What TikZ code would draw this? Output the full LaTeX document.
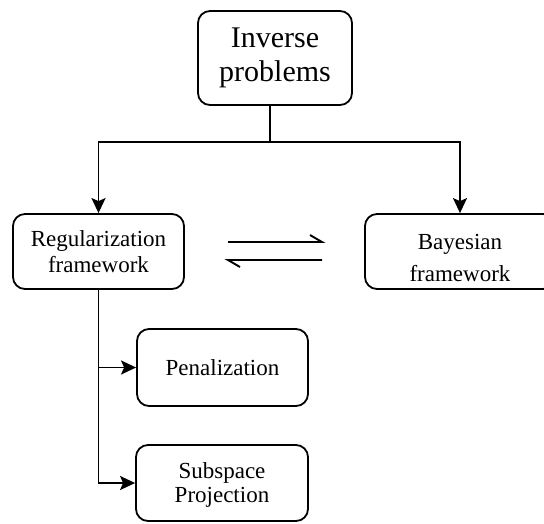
\documentclass[tikz,border=0pt]{standalone}
\usepackage{fontspec}
\setmainfont{Liberation Serif}
\usetikzlibrary{arrows.meta}
\begin{document}
\begin{tikzpicture}[x=1pt,y=-1pt,
  box/.style={draw,line width=1.8pt,rounded corners=12pt,align=center,inner sep=0pt},
  smalltext/.style={font=\fontsize{23}{26}\selectfont},
  arr/.style={line width=1.9pt,-{Stealth[length=15pt,width=14pt,inset=3pt]}},
  ln/.style={line width=1.9pt}]
\clip (0,0) rectangle (544,523);
\node[box,minimum width=154pt,minimum height=94pt,font=\fontsize{30}{34}\selectfont] (inv) at (275,58) {Inverse\\problems};
\node[box,smalltext,minimum width=171pt,minimum height=75pt] (reg) at (98.5,251.5) {Regularization\\framework};
\node[box,smalltext,minimum width=190pt,minimum height=75pt] (bay) at (460,251.5) {\rule{0pt}{29pt}Bayesian\\[6pt]framework};
\node[box,smalltext,minimum width=171pt,minimum height=77pt] (pen) at (222.5,367.5) {Penalization};
\node[box,font=\fontsize{23}{24}\selectfont,minimum width=172pt,minimum height=76pt] (sub) at (222,483) {\rule{0pt}{20pt}Subspace\\Projection};
\coordinate (hub) at (270,142);
\draw[ln] (inv.south -| hub) -- (hub);
\draw[arr] (hub) -| (reg.north);
\draw[arr] (hub) -| (bay.north);
\draw[arr] (reg.south) |- (pen.west);
\draw[arr] (reg.south) |- (sub.west);
\coordinate (h1a) at (228,242);
\coordinate (h1b) at (322,242);
\coordinate (h1c) at (310,235);
\coordinate (h2a) at (322,260);
\coordinate (h2b) at (228,260);
\coordinate (h2c) at (240,267);
\draw[ln,line join=miter] (h1a) -- (h1b) -- (h1c);
\draw[ln,line join=miter] (h2a) -- (h2b) -- (h2c);
\end{tikzpicture}
\end{document}
